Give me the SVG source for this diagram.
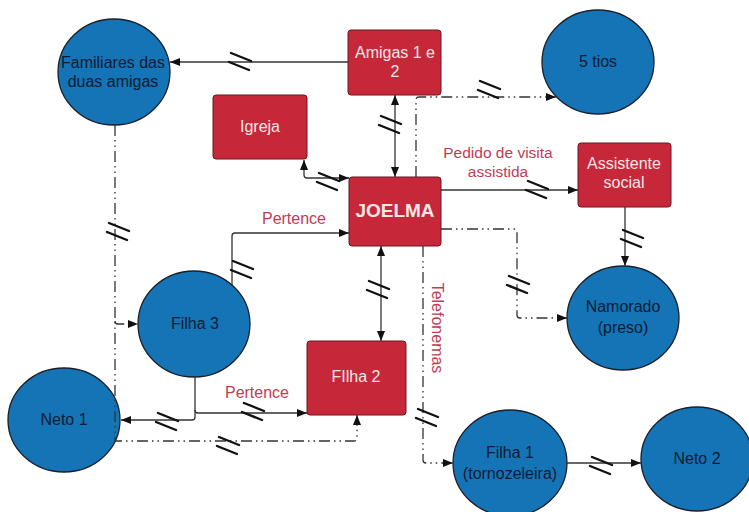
<svg xmlns="http://www.w3.org/2000/svg" width="749" height="512" viewBox="0 0 749 512">
  <style>
    .box { fill: #c6283a; stroke: #6b1620; stroke-width: 1; }
    .person { fill: #1474b6; stroke: #1b1f2a; stroke-width: 1.3; }
    .boxText { font-family: "Liberation Sans", Arial, sans-serif; font-size: 16px; fill: #f7e6e6; text-anchor: middle; dominant-baseline: central; }
    .personText { font-family: "Liberation Sans", Arial, sans-serif; font-size: 16px; fill: #0f1b33; text-anchor: middle; dominant-baseline: central; }
    .label { font-family: "Liberation Sans", Arial, sans-serif; font-size: 16px; fill: #c23b55; text-anchor: middle; dominant-baseline: central; }
    .link { fill: none; stroke: #333; stroke-width: 1.3; }
    .dashed { stroke-dasharray: 11 4 1.5 4 1.5 4; }
    .cut { stroke: #111; stroke-width: 2.4; stroke-linecap: round; }
  </style>
  <defs>
    <marker id="arrow" viewBox="0 0 10 8" refX="10" refY="4" markerWidth="10" markerHeight="8" markerUnits="userSpaceOnUse" orient="auto-start-reverse">
      <path d="M0,0 L10,4 L0,8 Z" fill="#111"/>
    </marker>
    <!-- broken-relationship mark: two tilted parallel strokes -->
    <g id="cutMark">
      <line class="cut" x1="-9" y1="-9" x2="11" y2="-1"/>
      <line class="cut" x1="-11" y1="0" x2="9" y2="8"/>
    </g>
  </defs>

  <rect width="749" height="512" fill="#fff"/>

  <!-- nodes -->
  <g id="familiares">
    <ellipse class="person" cx="114" cy="72" rx="56" ry="53"/>
    <text class="personText" x="113" y="62">Familiares das</text>
    <text class="personText" x="113" y="81">duas amigas</text>
  </g>
  <g id="amigas">
    <rect class="box" x="348" y="30" width="93" height="65" rx="3"/>
    <text class="boxText" x="395" y="52">Amigas 1 e</text>
    <text class="boxText" x="395" y="71">2</text>
  </g>
  <g id="tios">
    <ellipse class="person" cx="598" cy="62" rx="56" ry="52"/>
    <text class="personText" x="598" y="61">5 tios</text>
  </g>
  <g id="igreja">
    <rect class="box" x="213" y="95" width="94" height="64" rx="3"/>
    <text class="boxText" x="260" y="126">Igreja</text>
  </g>
  <g id="joelma">
    <rect class="box" x="349" y="177" width="92" height="69" rx="3"/>
    <text class="boxText" x="395" y="210" style="font-weight:bold;font-size:19px">JOELMA</text>
  </g>
  <g id="assistente">
    <rect class="box" x="578" y="143" width="93" height="64" rx="3"/>
    <text class="boxText" x="624" y="163">Assistente</text>
    <text class="boxText" x="624" y="182">social</text>
  </g>
  <g id="filha3">
    <ellipse class="person" cx="194" cy="324" rx="56" ry="53"/>
    <text class="personText" x="195" y="323">Filha 3</text>
  </g>
  <g id="neto1">
    <ellipse class="person" cx="64" cy="420" rx="56" ry="52"/>
    <text class="personText" x="64" y="419">Neto 1</text>
  </g>
  <g id="filha2">
    <rect class="box" x="307" y="341" width="99" height="74" rx="3"/>
    <text class="boxText" x="356" y="376">FIlha 2</text>
  </g>
  <g id="namorado">
    <ellipse class="person" cx="623" cy="318" rx="56" ry="52"/>
    <text class="personText" x="623" y="306">Namorado</text>
    <text class="personText" x="623" y="327">(preso)</text>
  </g>
  <g id="filha1">
    <ellipse class="person" cx="510" cy="463" rx="57" ry="53"/>
    <text class="personText" x="510" y="452">Filha 1</text>
    <text class="personText" x="510" y="473">(tornozeleira)</text>
  </g>
  <g id="neto2">
    <ellipse class="person" cx="697" cy="459" rx="56" ry="52"/>
    <text class="personText" x="697" y="458">Neto 2</text>
  </g>

  <!-- connectors -->
  <g id="connectors">
    <path class="link" d="M348,62 H170" marker-end="url(#arrow)"/>
    <path class="link" d="M395,95 V177" marker-start="url(#arrow)" marker-end="url(#arrow)"/>
    <path class="link dashed" d="M416,177 V100 Q416,97 419,97 H556" marker-end="url(#arrow)"/>
    <path class="link" d="M304,160 V175 Q304,178 307,178 H349" marker-start="url(#arrow)" marker-end="url(#arrow)"/>
    <path class="link" d="M441,190 H578" marker-end="url(#arrow)"/>
    <path class="link" d="M625,207 V266" marker-end="url(#arrow)"/>
    <path class="link dashed" d="M441,229 H514 Q517,229 517,232 V315 Q517,318 520,318 H567" marker-end="url(#arrow)"/>
    <path class="link dashed" d="M423,246 V460 Q423,463 426,463 H453" marker-end="url(#arrow)"/>
    <path class="link" d="M381,246 V341" marker-start="url(#arrow)" marker-end="url(#arrow)"/>
    <path class="link" d="M232,285 V236 Q232,233 235,233 H349" marker-end="url(#arrow)"/>
    <path class="link" d="M195,377 V417 Q195,420 192,420 H121" marker-end="url(#arrow)"/>
    <path class="link" d="M195,410 Q195,413 198,413 H307" marker-end="url(#arrow)"/>
    <path class="link dashed" d="M115,125 V441 H354 Q357,441 357,438 V415" marker-end="url(#arrow)"/>
    <path class="link dashed" d="M115,321 Q115,324 118,324 H138" marker-end="url(#arrow)"/>
    <path class="link" d="M566,463 H641" marker-end="url(#arrow)"/>

    <!-- break marks -->
    <use href="#cutMark" x="240" y="62"/>
    <use href="#cutMark" x="390" y="125"/>
    <use href="#cutMark" x="489" y="90"/>
    <use href="#cutMark" x="328" y="182"/>
    <use href="#cutMark" x="537" y="190"/>
    <use href="#cutMark" x="632" y="239"/>
    <use href="#cutMark" x="518" y="285"/>
    <use href="#cutMark" x="427" y="418"/>
    <use href="#cutMark" x="378" y="290"/>
    <use href="#cutMark" x="242" y="270"/>
    <use href="#cutMark" x="118" y="232"/>
    <use href="#cutMark" x="167" y="422"/>
    <use href="#cutMark" x="253" y="412"/>
    <use href="#cutMark" x="228" y="446"/>
    <use href="#cutMark" x="601" y="466"/>

    <!-- connector labels -->
    <text class="label" x="498" y="152" style="font-size:15.5px">Pedido de visita</text>
    <text class="label" x="498" y="171" style="font-size:15.5px">assistida</text>
    <text class="label" x="294" y="218">Pertence</text>
    <text class="label" x="257" y="392">Pertence</text>
    <text class="label" x="437" y="328" transform="rotate(90 437 328)">Telefonemas</text>
  </g>
</svg>
